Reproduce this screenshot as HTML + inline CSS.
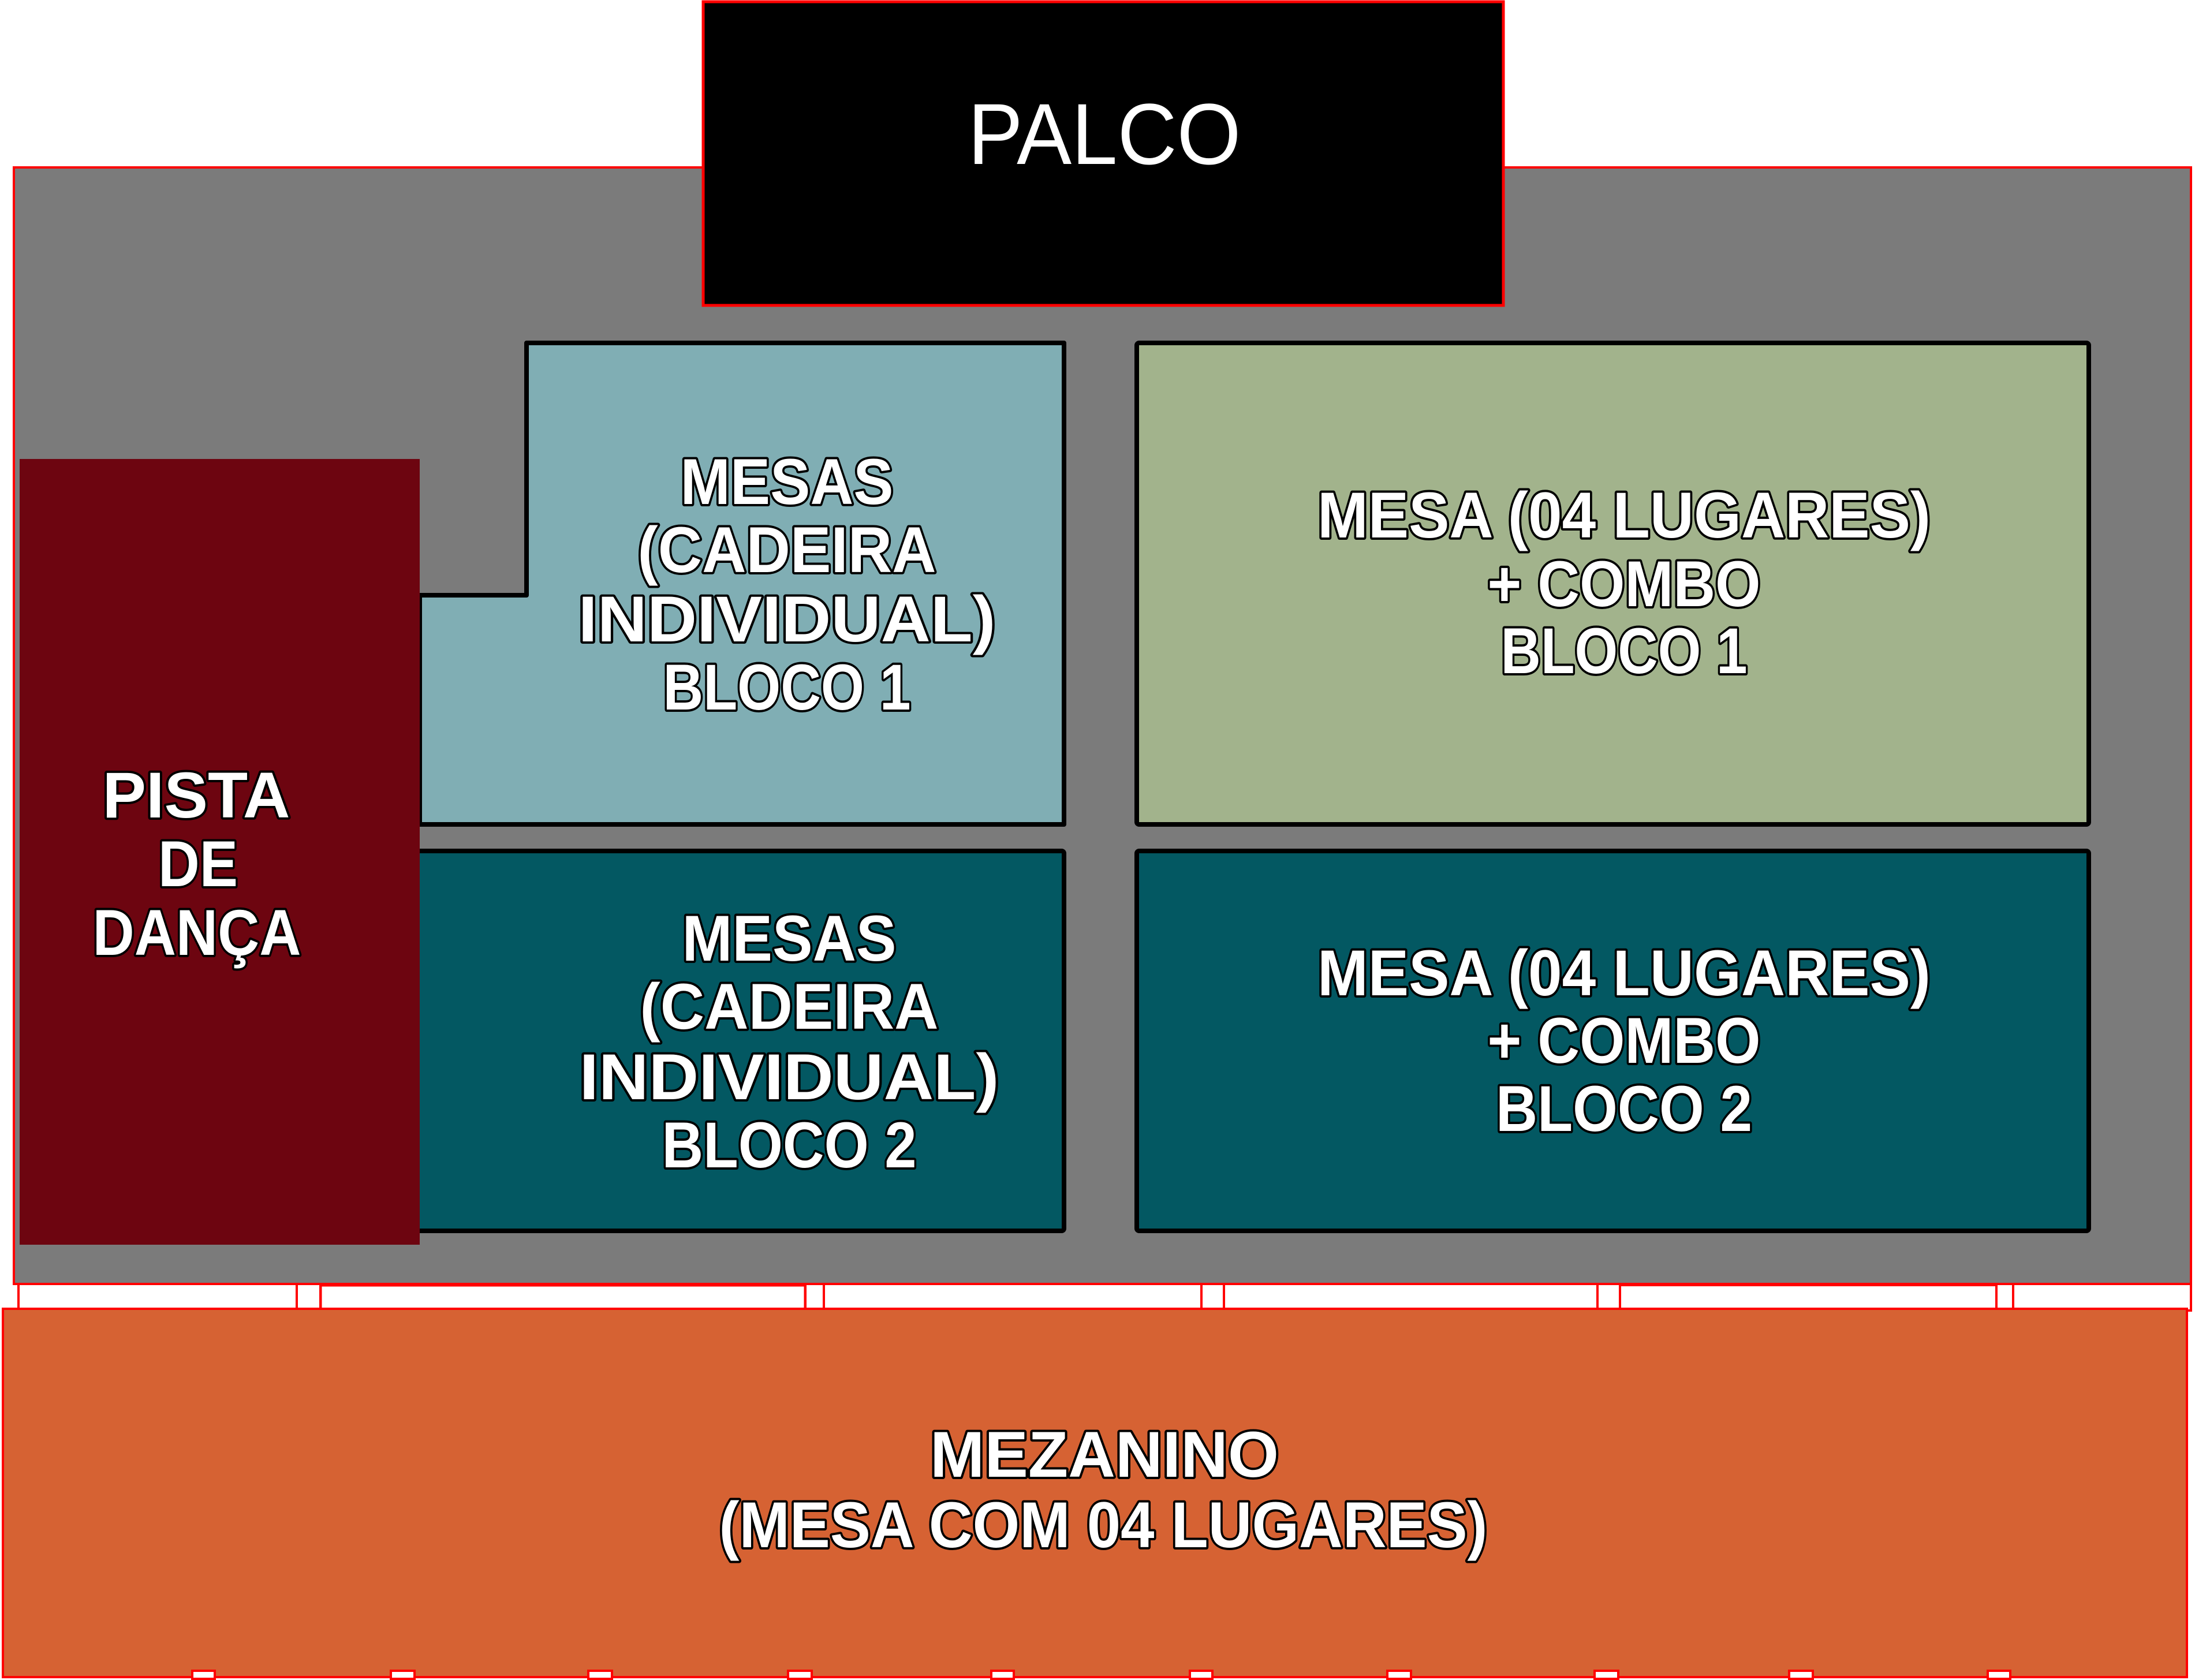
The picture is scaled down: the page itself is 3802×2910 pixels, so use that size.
<!DOCTYPE html>
<html><head><meta charset="utf-8"><style>html,body{margin:0;padding:0;background:#fff}svg{display:block}</style></head>
<body>
<svg xmlns="http://www.w3.org/2000/svg" width="3802" height="2910" viewBox="0 0 3802 2910">
<rect x="0" y="0" width="3802" height="2910" fill="#fff"/>
<!-- gray hall -->
<rect x="24" y="290" width="3771" height="1934" fill="#7b7b7b" stroke="#ff0000" stroke-width="4"/>
<!-- strip -->
<rect x="32" y="2224" width="3763" height="46" fill="#fff" stroke="#ff0000" stroke-width="4"/>
<rect x="555" y="2226" width="840" height="56" fill="none" stroke="#ff0000" stroke-width="5"/>
<rect x="2790" y="2226" width="670" height="52" fill="#fff" stroke="#ff0000" stroke-width="4"/>
<g fill="#fff" stroke="#ff0000" stroke-width="4">
<rect x="514" y="2224" width="41" height="46"/>
<rect x="1395" y="2224" width="32" height="48"/>
<rect x="2081" y="2224" width="39" height="48"/>
<rect x="2767" y="2224" width="39" height="48"/>
<rect x="3458" y="2224" width="29" height="48"/>
</g>
<!-- PALCO -->
<rect x="1218" y="3" width="1386" height="526" fill="#000" stroke="#ff0000" stroke-width="5"/>
<text x="1913" y="284" fill="#fff" font-family="Liberation Sans, sans-serif" font-size="150" text-anchor="middle" textLength="473" lengthAdjust="spacingAndGlyphs">PALCO</text>
<!-- light blue L-shape -->
<path d="M912 594 H1843 V1428 H727 V1031 H912 Z" fill="#80aeb4" stroke="#000" stroke-width="8" stroke-linejoin="round"/>
<!-- green -->
<rect x="1969" y="594" width="1649" height="834" fill="#a2b38c" stroke="#000" stroke-width="8" rx="4"/>
<!-- dark teal -->
<rect x="700" y="1474" width="1143" height="658" fill="#035862" stroke="#000" stroke-width="8" rx="4"/>
<rect x="1969" y="1474" width="1649" height="658" fill="#035862" stroke="#000" stroke-width="8" rx="4"/>
<!-- pista -->
<rect x="34" y="795" width="693" height="1361" fill="#6d0510"/>
<!-- mezanino -->
<rect x="5" y="2267" width="3783" height="638" fill="#d66233" stroke="#ff0000" stroke-width="4"/>
<g fill="#fff" stroke="#ff0000" stroke-width="4">
<rect x="333" y="2894" width="39" height="14"/><rect x="677" y="2894" width="41" height="14"/>
<rect x="1019" y="2894" width="41" height="14"/><rect x="1365" y="2894" width="41" height="14"/>
<rect x="1717" y="2894" width="39" height="14"/><rect x="2061" y="2894" width="39" height="14"/>
<rect x="2403" y="2894" width="41" height="14"/><rect x="2762" y="2894" width="41" height="14"/>
<rect x="3099" y="2894" width="41" height="14"/><rect x="3443" y="2894" width="39" height="14"/>
</g>
<g font-family="Liberation Sans, sans-serif" font-weight="bold" font-size="112" fill="#fff" stroke="#000" stroke-width="8" paint-order="stroke" text-anchor="middle" lengthAdjust="spacingAndGlyphs" stroke-linejoin="round">
<text x="1363" y="873" textLength="369" lengthAdjust="spacingAndGlyphs">MESAS</text>
<text x="1363" y="991" textLength="517" lengthAdjust="spacingAndGlyphs">(CADEIRA</text>
<text x="1363" y="1111" textLength="723" lengthAdjust="spacingAndGlyphs">INDIVIDUAL)</text>
<text x="1363" y="1229" textLength="429" lengthAdjust="spacingAndGlyphs">BLOCO 1</text>

<text x="2813" y="931" textLength="1062" lengthAdjust="spacingAndGlyphs">MESA (04 LUGARES)</text>
<text x="2813" y="1050" textLength="473" lengthAdjust="spacingAndGlyphs">+ COMBO</text>
<text x="2813" y="1166" textLength="427" lengthAdjust="spacingAndGlyphs">BLOCO 1</text>

<text x="1367" y="1664" textLength="371" lengthAdjust="spacingAndGlyphs">MESAS</text>
<text x="1367" y="1782" textLength="517" lengthAdjust="spacingAndGlyphs">(CADEIRA</text>
<text x="1367" y="1904" textLength="727" lengthAdjust="spacingAndGlyphs">INDIVIDUAL)</text>
<text x="1367" y="2022" textLength="441" lengthAdjust="spacingAndGlyphs">BLOCO 2</text>

<text x="2813" y="1724" textLength="1062" lengthAdjust="spacingAndGlyphs">MESA (04 LUGARES)</text>
<text x="2813" y="1841" textLength="473" lengthAdjust="spacingAndGlyphs">+ COMBO</text>
<text x="2813" y="1959" textLength="444" lengthAdjust="spacingAndGlyphs">BLOCO 2</text>

<text x="340" y="1416" textLength="325" lengthAdjust="spacingAndGlyphs">PISTA</text>
<text x="343" y="1535" textLength="138" lengthAdjust="spacingAndGlyphs">DE</text>
<text x="341" y="1654" textLength="361" lengthAdjust="spacingAndGlyphs">DANÇA</text>

<text x="1913" y="2558" textLength="604" lengthAdjust="spacingAndGlyphs">MEZANINO</text>
<text x="1911" y="2680" textLength="1331" lengthAdjust="spacingAndGlyphs">(MESA COM 04 LUGARES)</text>
</g>
</svg>
</body></html>
